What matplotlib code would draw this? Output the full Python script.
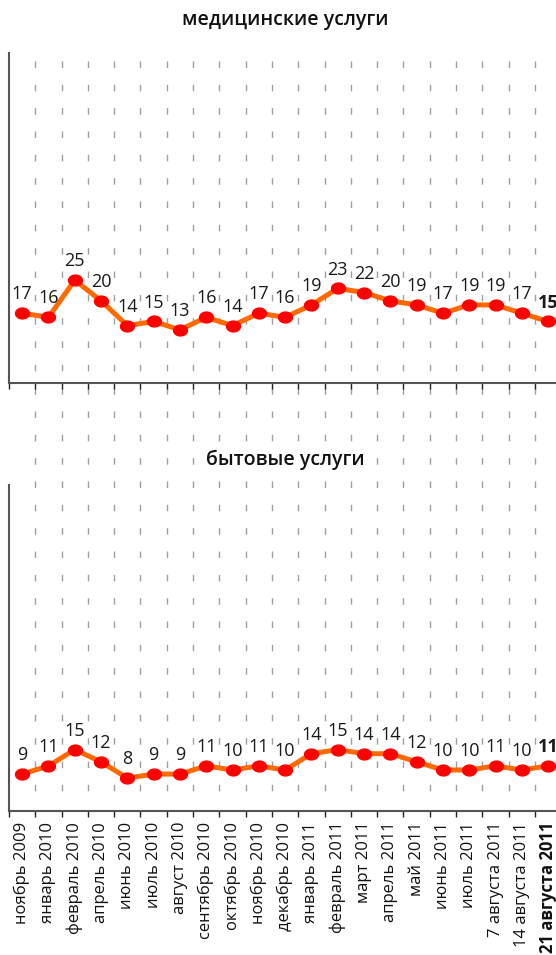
import matplotlib
matplotlib.use('Agg')
import matplotlib.pyplot as plt
import numpy as np
from matplotlib.path import Path

plt.rcParams['font.family'] = ['Open Sans', 'DejaVu Sans']

months = ['ноябрь 2009', 'январь 2010', 'февраль 2010', 'апрель 2010', 'июнь 2010',
          'июль 2010', 'август 2010', 'сентябрь 2010', 'октябрь 2010', 'ноябрь 2010',
          'декабрь 2010', 'январь 2011', 'февраль 2011', 'март 2011', 'апрель 2011',
          'май 2011', 'июнь 2011', 'июль 2011', '7 августа 2011', '14 августа 2011',
          '21 августа 2011']
medical = [17, 16, 25, 20, 14, 15, 13, 16, 14, 17, 16, 19, 23, 22, 20, 19, 17, 19, 19, 17, 15]
household = [9, 11, 15, 12, 8, 9, 9, 11, 10, 11, 10, 14, 15, 14, 14, 12, 10, 10, 11, 10, 11]

LINE_COLOR = '#ff6a00'
DOT_COLOR = '#ff0000'
SPINE_COLOR = '#555555'
W, H = 556, 955

# slightly flattened dot
t = np.linspace(0, 2 * np.pi, 60)
ellipse = Path(np.column_stack([np.cos(t), 0.78 * np.sin(t)]), closed=True)

x = np.arange(len(months))
xlim = (-0.5, 20.3)
bounds = np.arange(-0.5, 20, 1.0)


def fig_rect(left, top, right, bottom):
    return [left / W, 1 - bottom / H, (right - left) / W, (bottom - top) / H]


fig = plt.figure(figsize=(W / 100, H / 100), dpi=100)

# dashed guides running through both panels
bg = fig.add_axes(fig_rect(9, 61, W, 800))
bg.set_xlim(xlim)
bg.set_ylim(0, 1)
bg.axis('off')
for b in bounds[1:]:
    bg.plot([b, b], [1, 0], color='#a0a0a0', lw=1.0, dashes=(4.7, 12.1))


def panel(rect, values, title, title_y):
    ax = fig.add_axes(rect)
    ax.patch.set_alpha(0)
    ax.plot(x, values, color=LINE_COLOR, lw=3.6, zorder=3,
            marker=ellipse, markersize=10, markerfacecolor=DOT_COLOR,
            markeredgecolor=DOT_COLOR, clip_on=False)
    for i, v in enumerate(values):
        last = i == len(values) - 1
        ax.annotate(str(v), (i, v), xytext=(0, 10), textcoords='offset points',
                    ha='center', va='baseline', fontsize=13,
                    fontweight='bold' if last else 'normal', color='#1a1a1a',
                    annotation_clip=False)
    ax.set_xlim(xlim)
    ax.set_ylim(0, 80)
    for s in ['top', 'right']:
        ax.spines[s].set_visible(False)
    for s in ['left', 'bottom']:
        ax.spines[s].set_color(SPINE_COLOR)
        ax.spines[s].set_linewidth(1.5)
    ax.set_yticks([])
    ax.set_xticks(bounds)
    ax.set_xticklabels([])
    ax.tick_params(axis='x', which='major', direction='out', length=4.5,
                   width=1, color='#222222')
    fig.text(0.513, 1 - title_y / H, title, ha='center', va='center',
             fontsize=14, fontweight='semibold', color='#111111',
             bbox=dict(facecolor='white', edgecolor='none', pad=1))
    return ax


top = panel(fig_rect(9, 52.7, W, 383.5), medical, 'медицинские услуги', 20)
bottom = panel(fig_rect(9, 485, W, 810.7), household, 'бытовые услуги', 460)

bottom.set_xticks(x, minor=True)
bottom.set_xticklabels(months, minor=True, rotation=90, fontsize=12, color='#111111')
bottom.tick_params(axis='x', which='minor', length=0, pad=8)
bottom.get_xticklabels(minor=True)[-1].set_fontweight('bold')

fig.savefig('out.png', dpi=100)
